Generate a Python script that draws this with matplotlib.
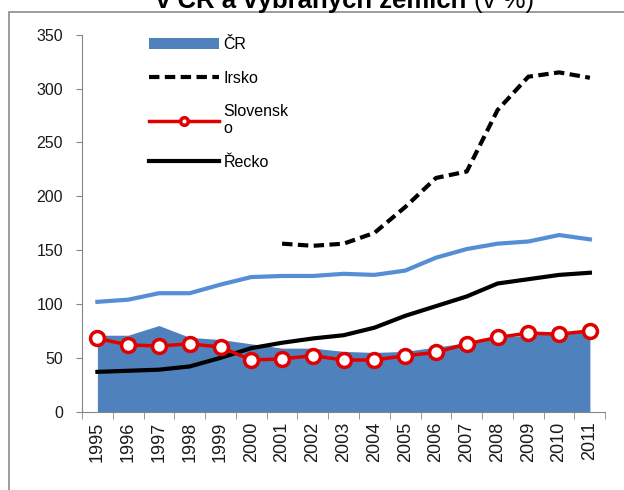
import matplotlib
matplotlib.use("Agg")
import matplotlib.pyplot as plt
from matplotlib.patches import Rectangle

plt.rcParams['font.family'] = ['Liberation Sans', 'DejaVu Sans']

# data
years = [str(y) for y in range(1995, 2012)]
cr = [71, 71, 80, 69, 67, 63, 59, 59, 56, 55, 56, 60, 64, 69, 71, 73, 75]
unlabeled = [102, 104, 110, 110, 118, 125, 126, 126, 128, 127, 131, 143, 151, 156, 158, 164, 160]
irsko = [None] * 6 + [156, 154, 156, 166, 190, 217, 223, 280, 311, 315, 310]
slovensko = [68, 62, 61, 63, 60, 48, 49, 52, 48, 48, 52, 55, 63, 69, 73, 72, 75]
recko = [37, 38, 39, 42, 50, 59, 64, 68, 71, 78, 89, 98, 107, 119, 123, 127, 129]

x = list(range(len(years)))
irsko_x = [i for i, v in zip(x, irsko) if v is not None]
irsko_y = [v for v in irsko if v is not None]

fig = plt.figure(figsize=(6.24, 4.9), dpi=100)
ax = fig.add_axes([0.1314, 0.1598, 0.8386, 0.7694])

# series
ax.fill_between(x, cr, 0, color='#4F81BD', lw=0, label='ČR')
ax.plot(x, unlabeled, color='#558ED5', lw=3, label='_nolegend_')
ax.plot(irsko_x, irsko_y, color='black', lw=3, ls=(0, (2.5, 1.3)), label='Irsko')
ax.plot(x, recko, color='black', lw=3, label='Řecko')
ax.plot(x, slovensko, color='#E00000', lw=2.5, marker='o', markersize=10,
        markerfacecolor='white', markeredgecolor='#E00000', markeredgewidth=2.5,
        label='Slovensk\no')

# axes styling
ax.set_xlim(-0.5, len(years) - 0.5)
ax.set_ylim(0, 350)
ax.set_yticks(range(0, 351, 50))
ax.set_xticks(x)
ax.set_xticklabels(years, rotation=90)
ax.set_xticks([i - 0.5 for i in range(len(years) + 1)], minor=True)
ax.tick_params(axis='x', which='major', length=0, pad=7, labelsize=13, colors='#1a1a1a')
ax.tick_params(axis='x', which='minor', length=5, color='#868686', direction='out')
ax.tick_params(axis='y', length=4.5, color='#868686', pad=9, labelsize=11.5, labelcolor='#1a1a1a')
for s in ['top', 'right']:
    ax.spines[s].set_visible(False)
for s in ['left', 'bottom']:
    ax.spines[s].set_color('#868686')

# legend
handles, labels = ax.get_legend_handles_labels()
order = ['ČR', 'Irsko', 'Slovensk\no', 'Řecko']
hl = dict(zip(labels, handles))
ax.legend([hl[k] for k in order], order, loc='upper left', bbox_to_anchor=(0.115, 1.01),
          frameon=False, fontsize=11.5, handlelength=4.4, handletextpad=0.3,
          labelspacing=1.15, borderaxespad=0, markerscale=0.55)

# outer frame and title (cut off at top)
fig.patches.append(Rectangle((9 / 624, -0.1), 1.2, 1.1 - 12 / 490, transform=fig.transFigure,
                             fill=False, edgecolor='#8c8c8c', lw=1.2))
fig.text(466 / 624, 1 - 8 / 490, 'v ČR a vybraných zemích', ha='right', va='baseline',
         fontsize=18.5, fontweight='bold', color='black')
fig.text(474 / 624, 1 - 8 / 490, '(v %)', ha='left', va='baseline',
         fontsize=18.5, color='black')

fig.savefig('out.png', dpi=100)
